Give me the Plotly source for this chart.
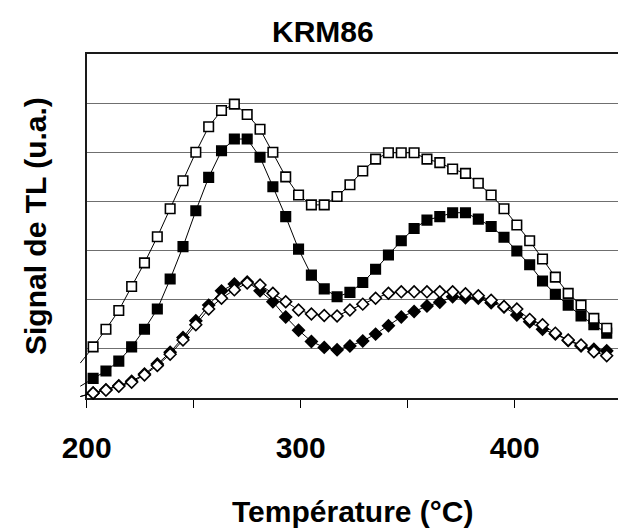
import plotly.graph_objects as go

# Température (°C) ; the first reading (197 °C) lies just before the axis start
temperature = [197, 203, 209, 215, 221, 227, 233, 239, 245, 251, 257, 263, 269, 275,
               281, 287, 293, 299, 305, 311, 317, 323, 329, 335, 341, 347, 353, 359,
               365, 371, 377, 383, 389, 395, 401, 407, 413, 419, 425, 431, 437, 443]

# Signal de TL (u.a.) for the four glow curves
open_squares = [0.71, 1.04, 1.40, 1.78, 2.27, 2.75, 3.28, 3.85, 4.42, 5.00, 5.52, 5.85,
                5.98, 5.77, 5.47, 5.00, 4.50, 4.13, 3.93, 3.93, 4.10, 4.34, 4.62, 4.86,
                4.99, 4.99, 4.99, 4.86, 4.79, 4.66, 4.57, 4.37, 4.13, 3.85, 3.52, 3.20,
                2.83, 2.46, 2.13, 1.89, 1.62, 1.42]
filled_squares = [0.24, 0.40, 0.55, 0.75, 1.04, 1.40, 1.81, 2.42, 3.08, 3.81, 4.49, 5.03,
                  5.27, 5.27, 4.90, 4.30, 3.69, 3.03, 2.50, 2.22, 2.06, 2.15, 2.35, 2.62,
                  2.91, 3.20, 3.45, 3.62, 3.69, 3.77, 3.77, 3.64, 3.49, 3.27, 2.99, 2.71,
                  2.38, 2.11, 1.89, 1.67, 1.49, 1.32]
filled_diamonds = [0.03, 0.10, 0.17, 0.25, 0.34, 0.49, 0.69, 0.93, 1.23, 1.57, 1.89, 2.18,
                   2.32, 2.36, 2.18, 1.96, 1.65, 1.38, 1.15, 1.03, 0.98, 1.06, 1.16, 1.30,
                   1.47, 1.65, 1.76, 1.87, 1.95, 2.06, 2.04, 2.03, 1.94, 1.85, 1.69, 1.55,
                   1.40, 1.30, 1.17, 1.06, 0.99, 0.96]
open_diamonds = [0.03, 0.10, 0.16, 0.24, 0.32, 0.47, 0.66, 0.89, 1.18, 1.49, 1.81, 2.03,
                 2.20, 2.34, 2.30, 2.13, 1.96, 1.79, 1.71, 1.68, 1.67, 1.79, 1.91, 2.03,
                 2.13, 2.16, 2.16, 2.16, 2.16, 2.16, 2.12, 2.08, 1.99, 1.86, 1.81, 1.60,
                 1.49, 1.32, 1.18, 1.08, 0.94, 0.86]

x_ticks = [200, 250, 300, 350, 400, 450]
x_tick_text = ["200", "", "300", "", "400", ""]
y_grid_top = 7
title_text = "KRM86"
x_title = "Température (°C)"
y_title = "Signal de TL (u.a.)"

# page geometry (pixels)
W, H = 618, 530
ML, MR, MT, MB = 80, 0, 54, 132
PW, PH = W - ML - MR, H - MT - MB
AXIS_X = 86.7          # pixel column of the y axis (200 °C)
PX_PER_DEG = 2.14
x_lo_main = 200
x_hi = x_lo_main + (ML + PW - AXIS_X) / PX_PER_DEG
x_lo_wide = x_lo_main - (AXIS_X - ML) / PX_PER_DEG

FONT = "Liberation Sans, Arial, sans-serif"
GRID = "#6f6f6f"
AXIS = "#1a1a1a"

def px_x(px):
    return (px - ML) / PW

def px_y(py):
    return (H - MB - py) / PH

fig = go.Figure()

# frame subplot: carries the axes and the horizontal grid
fig.add_trace(go.Scatter(x=[], y=[], xaxis="x", yaxis="y", mode="lines",
                         showlegend=False, hoverinfo="skip"))

# curves sit on a slightly wider, hidden subplot so the first segment can
# start left of the axis line
series = [
    (filled_squares, "square", "black", 9.5),
    (open_squares, "square", "white", 9.5),
    (filled_diamonds, "diamond", "black", 9),
    (open_diamonds, "diamond", "white", 9),
]
for values, symbol, fill, size in series:
    fig.add_trace(go.Scatter(
        x=temperature, y=values, xaxis="x2", yaxis="y2",
        mode="lines+markers",
        line=dict(color="black", width=1),
        marker=dict(symbol=symbol, size=size, color=fill,
                    opacity=[0] + [1] * (len(values) - 1),
                    line=dict(color="black", width=1.6)),
        cliponaxis=False, showlegend=False, hoverinfo="skip",
    ))

fig.update_layout(
    width=W, height=H,
    margin=dict(l=ML, r=MR, t=MT, b=MB, pad=0),
    paper_bgcolor="white", plot_bgcolor="rgba(0,0,0,0)",
    showlegend=False,
    xaxis=dict(domain=[px_x(AXIS_X), 1], range=[x_lo_main, x_hi], anchor="y",
               showgrid=False, zeroline=False,
               showline=True, mirror=True, linecolor=AXIS, linewidth=1.5,
               ticks="outside", ticklen=8, tickwidth=1, tickcolor="black",
               tickmode="array", tickvals=x_ticks, ticktext=x_tick_text,
               ticklabelstandoff=14,
               tickfont=dict(family=FONT, size=30, color="black", weight="bold")),
    yaxis=dict(domain=[0, 1], range=[0, y_grid_top], anchor="x", dtick=1, tick0=0,
               showgrid=True, gridcolor=GRID, gridwidth=1,
               zeroline=False, showline=True, linecolor=AXIS, linewidth=1.5,
               ticks="", showticklabels=False),
    xaxis2=dict(domain=[0, 1], range=[x_lo_wide, x_hi], anchor="y2", visible=False),
    yaxis2=dict(domain=[0, 1], range=[0, y_grid_top], anchor="x2", visible=False),
    annotations=[
        dict(text=title_text, xref="paper", yref="paper", x=px_x(323), y=px_y(31),
             xanchor="center", yanchor="middle", showarrow=False,
             font=dict(family=FONT, size=30, color="black", weight="bold")),
        dict(text=x_title, xref="paper", yref="paper", x=px_x(352), y=px_y(511),
             xanchor="center", yanchor="middle", showarrow=False,
             font=dict(family=FONT, size=30, color="black", weight="bold")),
        dict(text=y_title, xref="paper", yref="paper", x=px_x(35), y=px_y(226),
             xanchor="center", yanchor="middle", showarrow=False, textangle=-90,
             font=dict(family=FONT, size=30, color="black", weight="bold")),
    ],
)

fig.write_html("out.html")
